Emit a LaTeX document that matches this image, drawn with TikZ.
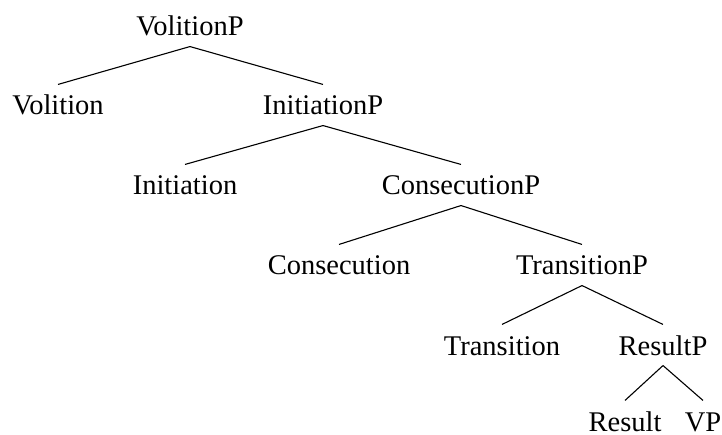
\documentclass[tikz,border=0pt]{standalone}
\usepackage{fontspec}
\setmainfont{Liberation Serif}

\begin{document}
\begin{tikzpicture}[x=1pt,y=-1pt,line width=1.1pt,font=\fontsize{28.5}{34}\selectfont]
  \tikzstyle{every node}=[inner sep=0pt,text height=30pt,text depth=10pt,anchor=base]
  \tikzstyle{leaf}=[text depth=0pt]
  \useasboundingbox (0,0) rectangle (722,435);

  \node (VolP)  at (190,36)  {VolitionP};
  \node (Vol)   at (58,115)  {Volition};
  \node (IniP)  at (323,115) {InitiationP};
  \node (Ini)   at (185,195) {Initiation};
  \node (ConP)  at (461,195) {ConsecutionP};
  \node (Con)   at (339,275) {Consecution};
  \node (TraP)  at (582,275) {TransitionP};
  \node (Tra)   at (502,355) {Transition};
  \node (ResP)  at (663,355) {ResultP};
  \node[leaf] (Res) at (625,431) {Result};
  \node[leaf] (VP)  at (703,431) {VP};

  \path (VolP.south) edge (Vol.north)
                     edge (IniP.north)
        (IniP.south) edge (Ini.north)
                     edge (ConP.north)
        (ConP.south) edge (Con.north)
                     edge (TraP.north)
        (TraP.south) edge (Tra.north)
                     edge (ResP.north)
        (ResP.south) edge (Res.north)
                     edge (VP.north);
\end{tikzpicture}
\end{document}
